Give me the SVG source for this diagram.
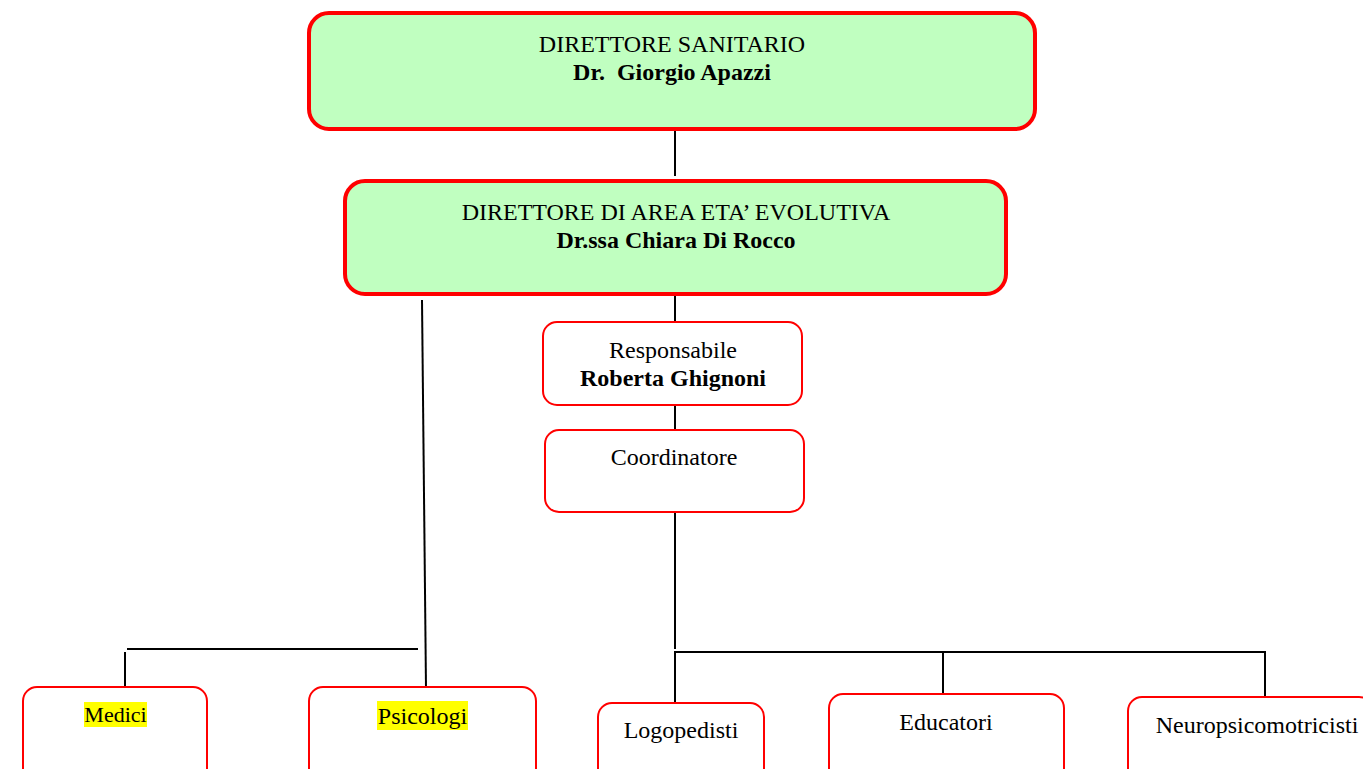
<svg xmlns="http://www.w3.org/2000/svg" width="1363" height="769" viewBox="0 0 1363 769">
<style>
.big{fill:#C0FFC0;stroke:#FF0000;stroke-width:4}
.sm{fill:#FFFFFF;stroke:#FF0000;stroke-width:2}
text{font-family:"Liberation Serif","Times New Roman",serif;font-size:24px;fill:#000;text-anchor:middle}
.b{font-weight:bold}
.c line{stroke:#000;stroke-width:2}
.hl{fill:#FFFF00}
</style>
<rect width="1363" height="769" fill="#FFFFFF"/>
<g class="c" id="connectors">
<line x1="675" y1="130" x2="675" y2="176"/>
<line x1="675" y1="296" x2="675" y2="321"/>
<line x1="675" y1="406" x2="675" y2="429"/>
<line x1="675" y1="513" x2="675" y2="649"/>
<line x1="422" y1="300" x2="426" y2="688"/>
<line x1="127" y1="649" x2="418" y2="649"/>
<line x1="125" y1="652" x2="125" y2="688"/>
<line x1="674" y1="652" x2="1266" y2="652"/>
<line x1="675" y1="652" x2="675" y2="703"/>
<line x1="943" y1="652" x2="943" y2="694"/>
<line x1="1265" y1="652" x2="1265" y2="697"/>
</g>
<g id="n-sanitario">
<rect class="big" x="309" y="13" width="726" height="116" rx="20"/>
<text x="672" y="52">DIRETTORE SANITARIO</text>
<text class="b" x="672" y="80" xml:space="preserve">Dr.  Giorgio Apazzi</text>
</g>
<g id="n-area">
<rect class="big" x="345" y="181" width="661" height="113" rx="20"/>
<text x="676" y="220">DIRETTORE DI AREA ETA’ EVOLUTIVA</text>
<text class="b" x="676" y="248">Dr.ssa Chiara Di Rocco</text>
</g>
<g id="n-responsabile">
<rect class="sm" x="543" y="322" width="259" height="83" rx="14"/>
<text x="673" y="358">Responsabile</text>
<text class="b" x="673" y="386">Roberta Ghignoni</text>
</g>
<g id="n-coordinatore">
<rect class="sm" x="545" y="430" width="259" height="82" rx="14"/>
<text x="674" y="465">Coordinatore</text>
</g>
<g id="n-medici">
<rect class="sm" x="23" y="687" width="184" height="100" rx="14"/>
<rect class="hl" x="84" y="702" width="63" height="25"/>
<text x="115.5" y="722" style="font-size:22px">Medici</text>
</g>
<g id="n-psicologi">
<rect class="sm" x="309" y="687" width="227" height="100" rx="14"/>
<rect class="hl" x="377" y="701" width="91" height="29"/>
<text x="422.5" y="724">Psicologi</text>
</g>
<g id="n-logopedisti">
<rect class="sm" x="598" y="703" width="166" height="90" rx="14"/>
<text x="681" y="738">Logopedisti</text>
</g>
<g id="n-educatori">
<rect class="sm" x="829" y="694" width="235" height="100" rx="14"/>
<text x="946" y="730">Educatori</text>
</g>
<g id="n-neuro">
<rect class="sm" x="1128" y="697" width="245" height="100" rx="14"/>
<text x="1257" y="733">Neuropsicomotricisti</text>
</g>
</svg>
